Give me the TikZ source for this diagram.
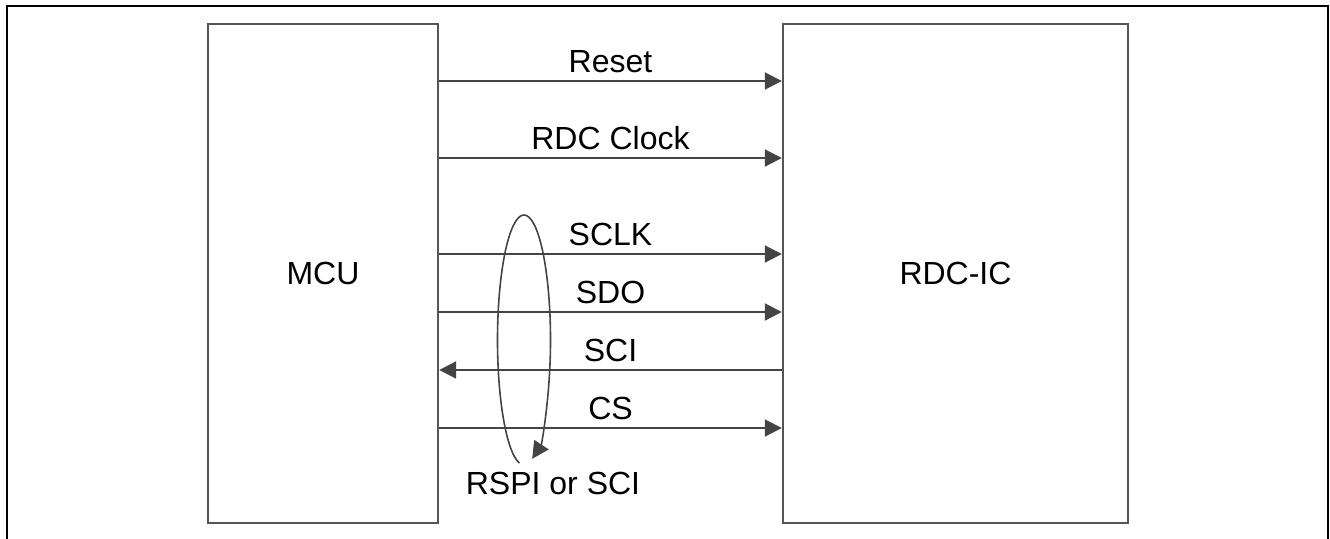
\documentclass[tikz,border=0pt]{standalone}
\usepackage{fontspec}
\setmainfont{Liberation Sans}
\usepackage{tikz}
\usetikzlibrary{arrows.meta}
\usetikzlibrary{calc}

\definecolor{boxgray}{HTML}{555555}
\definecolor{siggray}{HTML}{444444}

\tikzset{
	blk/.style={draw=boxgray, line width=1.2pt, minimum height=249.5pt, inner sep=0pt},
	sig/.style={draw=siggray, line width=1pt, -{Triangle[length=8.5pt,width=8.5pt]}},
	lbl/.style={midway, anchor=base, yshift=4.5pt, inner sep=0pt},
}

\begin{document}
\begin{tikzpicture}[x=0.5pt, y=0.5pt, font=\fontsize{16pt}{19pt}\selectfont]
	\useasboundingbox (0,0) rectangle (1330,538);
	% outer frame, open at the bottom
	\draw[line width=1pt] (6.5,-5) -- (6.5,532) -- (1328,532) -- (1328,-5);

	\node[blk, minimum width=115pt] (mcu) at (323,264.5) {MCU};
	\node[blk, minimum width=172.5pt] (rdc) at (955.5,264.5) {RDC-IC};

	\foreach \y/\n in {457/reset, 380/clk, 284/sclk, 226/sdo, 168/sci, 110/cs}
	{
		\path (mcu.east |- 0,\y) coordinate (m-\n)
		      (rdc.west |- 0,\y) coordinate (r-\n);
	}

	\draw[sig] (m-reset) -- node[lbl] {Reset} (r-reset);
	\draw[sig] (m-clk)   -- node[lbl] {RDC Clock} (r-clk);
	\draw[sig] (m-sclk)  -- node[lbl] {SCLK} (r-sclk);
	\draw[sig] (m-sdo)   -- node[lbl] {SDO} (r-sdo);
	\draw[sig] (r-sci)   -- node[lbl] {SCI} (m-sci);
	\draw[sig] (m-cs)    -- node[lbl] {CS} (r-cs);

	% loop round the serial lines
	\coordinate (loopstart) at (519.4,74.9);
	\draw[sig, line width=0.8pt] (loopstart) arc[start angle=260, end angle=-72, x radius=13.25pt, y radius=62.5pt];
	\node[anchor=base, inner sep=0pt] (spi) at (553,44) {RSPI or SCI};
\end{tikzpicture}
\end{document}
